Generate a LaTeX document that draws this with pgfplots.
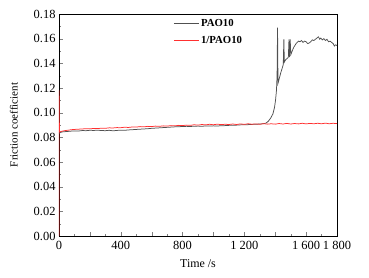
\documentclass[border=0pt]{standalone}
\usepackage{fontspec}
\setmainfont{Liberation Serif}
\usepackage{pgfplots}
\pgfplotsset{compat=1.18}
\definecolor{pgrey}{HTML}{505050}
\definecolor{pred}{HTML}{FF3030}
\begin{document}
\begin{tikzpicture}
\begin{axis}[
  scale only axis,
  width=278bp, height=222bp,
  xmin=0, xmax=1800, ymin=0, ymax=0.18,
  axis line style={black, line width=0.7pt},
  tick pos=left,
  tick align=inside,
  major tick length=4bp, minor tick length=2bp,
  xtick={0,200,...,1800},
  xticklabels={0,,400,,800,,1\ 200,,1\ 600,1\ 800},
  minor x tick num=1,
  ytick={0,0.02,...,0.181},
  minor y tick num=1,
  /pgf/number format/assume math mode=true,
  yticklabel style={/pgf/number format/.cd, fixed, fixed zerofill, precision=2},
  xticklabel style={yshift=-2bp},
  tick label style={font=\fontsize{12.5}{12.5}\selectfont},
  xlabel={Time /s},
  ylabel={Friction coefficient},
  xlabel style={font=\fontsize{12}{12}\selectfont, yshift=-3bp},
  ylabel style={font=\fontsize{11}{11}\selectfont, yshift=9bp},
  legend style={at={(0.40,0.995)}, anchor=north west, draw=none, fill=none,
    font=\bfseries\fontsize{10.8}{10.8}\selectfont, row sep=4bp},
  legend cell align=left,
  legend image code/.code={\draw[#1] (-0.05cm,0cm) -- (0.83cm,0cm);},
]
\addplot[pgrey, line width=0.75pt] coordinates {
(0,0.0832)(10,0.0840)(25,0.0845)(50,0.0847)(75,0.0850)(100,0.0852)(125,0.0851)(150,0.0855)(175,0.0854)(200,0.0857)
(225,0.0856)(250,0.0858)(275,0.0855)(300,0.0854)(325,0.0857)(350,0.0853)(375,0.0856)(400,0.0858)(425,0.0857)(450,0.0860)
(475,0.0862)(500,0.0864)(525,0.0866)(550,0.0868)(575,0.0870)(600,0.0873)(625,0.0875)(650,0.0877)(675,0.0879)(700,0.0881)
(725,0.0883)(750,0.0885)(775,0.0886)(800,0.0888)(825,0.0889)(850,0.0888)(875,0.0890)(900,0.0891)(925,0.0890)(950,0.0892)
(975,0.0891)(1000,0.0893)(1025,0.0892)(1050,0.0894)(1075,0.0895)(1100,0.0897)(1125,0.0898)(1150,0.0899)(1175,0.0901)(1200,0.0902)
(1225,0.0903)(1250,0.0905)(1275,0.0906)(1300,0.0908)(1320,0.0910)(1340,0.0915)(1355,0.0930)(1370,0.0955)(1385,0.0990)(1395,0.1040)
(1402,0.1100)(1408,0.1180)(1412,0.1300)(1415,0.1690)(1418,0.1238)(1425,0.1270)(1435,0.1320)(1445,0.1360)(1452,0.1390)(1456,0.1595)
(1459,0.1410)(1468,0.1430)(1478,0.1440)(1485,0.1450)(1489,0.1595)(1492,0.1450)(1497,0.1595)(1501,0.1470)(1510,0.1500)(1520,0.1530)
(1535,0.1560)(1550,0.1580)(1560,0.1575)(1570,0.1585)(1580,0.1570)(1590,0.1580)(1600,0.1575)(1610,0.1560)(1620,0.1565)(1630,0.1575)
(1640,0.1590)(1650,0.1585)(1660,0.1595)(1670,0.1605)(1680,0.1615)(1688,0.1595)(1695,0.1605)(1705,0.1590)(1715,0.1600)(1725,0.1585)
(1735,0.1595)(1745,0.1575)(1755,0.1580)(1765,0.1570)(1775,0.1560)(1783,0.1540)(1790,0.1550)(1800,0.1545)
};
\addlegendentry{PAO10}
\addplot[pred, line width=0.75pt] coordinates {
(0,0)(0.5,0.118)(3,0.0843)(20,0.0850)(40,0.0855)(60,0.0858)(80,0.0862)(100,0.0864)(125,0.0866)(150,0.0868)(175,0.0870)
(200,0.0869)(225,0.0872)(250,0.0871)(275,0.0874)(300,0.0873)(325,0.0877)(350,0.0876)(375,0.0879)(400,0.0878)(425,0.0882)
(450,0.0880)(475,0.0884)(500,0.0883)(525,0.0887)(550,0.0885)(575,0.0889)(600,0.0887)(625,0.0891)(650,0.0889)(675,0.0893)
(700,0.0891)(725,0.0895)(750,0.0893)(775,0.0897)(800,0.0895)(825,0.0899)(850,0.0897)(875,0.0902)(900,0.0899)(925,0.0904)
(950,0.0901)(975,0.0906)(1000,0.0902)(1025,0.0907)(1050,0.0903)(1075,0.0906)(1100,0.0904)(1125,0.0908)(1150,0.0904)(1175,0.0909)
(1200,0.0905)(1225,0.0910)(1250,0.0906)(1275,0.0909)(1300,0.0906)(1325,0.0911)(1350,0.0907)(1375,0.0910)(1400,0.0907)(1425,0.0912)
(1450,0.0908)(1475,0.0913)(1500,0.0908)(1525,0.0912)(1550,0.0909)(1575,0.0914)(1600,0.0909)(1625,0.0913)(1650,0.0910)(1675,0.0914)
(1700,0.0910)(1725,0.0915)(1750,0.0910)(1775,0.0914)(1800,0.0911)
};
\addlegendentry{1/PAO10}
\end{axis}
\path ([xshift=-59bp,yshift=-42bp]current axis.south west) rectangle ([xshift=32bp,yshift=14bp]current axis.north east);
\end{tikzpicture}
\end{document}
